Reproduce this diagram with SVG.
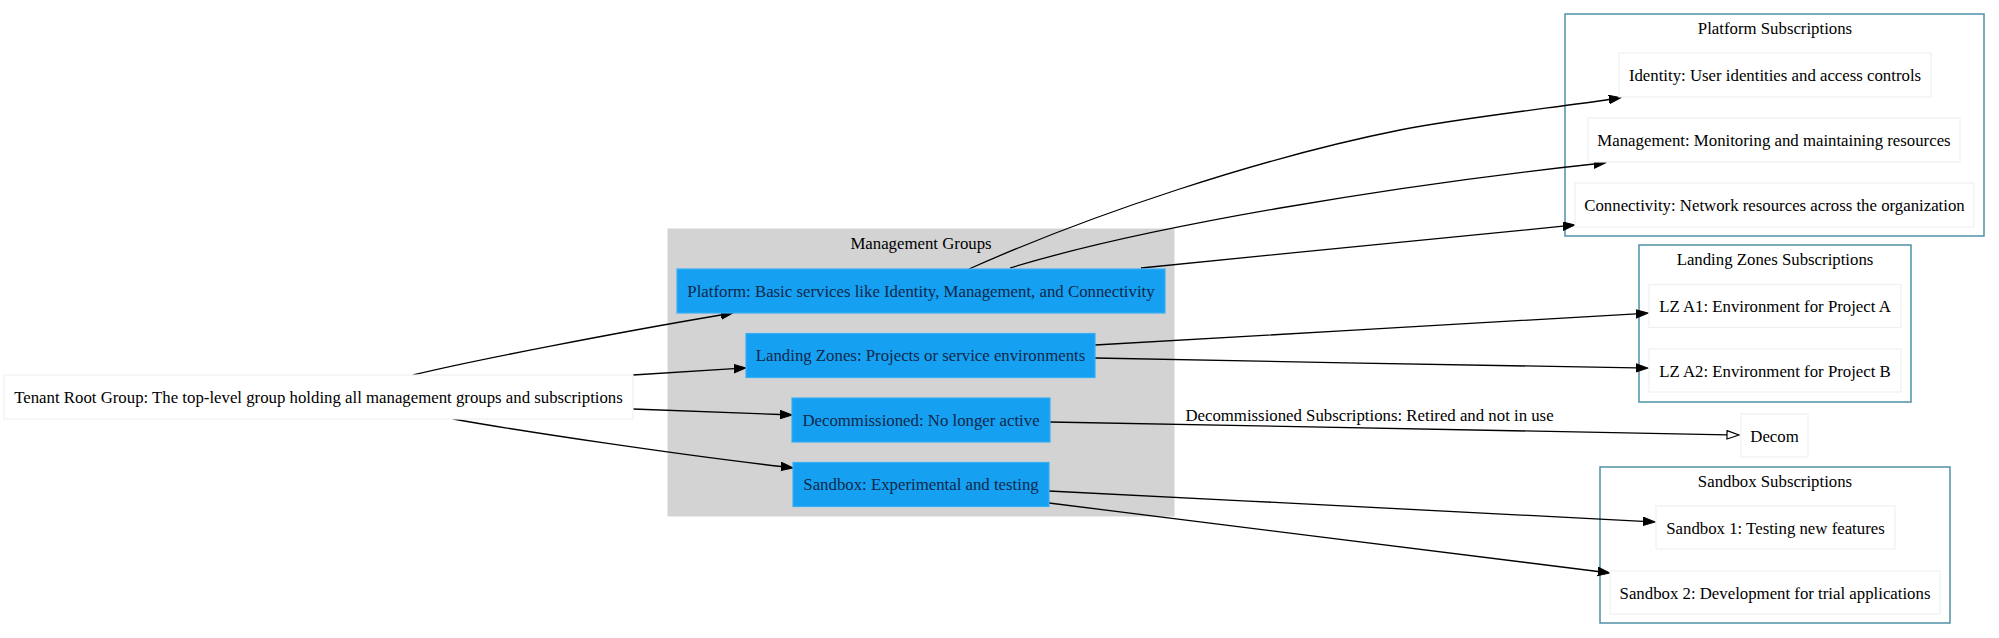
<svg xmlns="http://www.w3.org/2000/svg" width="1999" height="638" viewBox="0 0 1999 638">
<style>
text{font-family:"Liberation Serif","Times New Roman",serif;font-size:16.8px;fill:#000;text-anchor:middle}
.sub{fill:#fff;stroke:#4f91a8;stroke-width:1.5}
.mg{fill:#d3d3d3;stroke:#d3d3d3}
.wn{fill:#fff;stroke:#eef1f1;stroke-width:1.2}
.bn{fill:#15a0f2;stroke:#3aaef5;stroke-width:1.2}
.bt{fill:#10284a}
.e{fill:none;stroke:#000;stroke-width:1.3}
</style>
<defs>
<marker id="ah" markerUnits="userSpaceOnUse" markerWidth="13" markerHeight="10" refX="0" refY="4.5" orient="auto">
<path d="M0,0.3 L12,4.5 L0,8.7 z" fill="#000" stroke="#000" stroke-width="1"/>
</marker>
<marker id="ao" markerUnits="userSpaceOnUse" markerWidth="14" markerHeight="11" refX="0.8" refY="5" orient="auto">
<path d="M0.8,0.8 L12.8,5 L0.8,9.2 z" fill="#fff" stroke="#000" stroke-width="1.2"/>
</marker>
</defs>
<rect width="1999" height="638" fill="#fff"/>

<g id="cluster-mg">
<rect class="mg" x="668" y="229" width="506" height="287"/>
<text x="921" y="249">Management Groups</text>
</g>
<g id="cluster-platform-subs">
<rect class="sub" x="1565" y="14" width="419" height="222"/>
<text x="1775" y="34">Platform Subscriptions</text>
</g>
<g id="cluster-lz-subs">
<rect class="sub" x="1639" y="245" width="272" height="157"/>
<text x="1775" y="265">Landing Zones Subscriptions</text>
</g>
<g id="cluster-sandbox-subs">
<rect class="sub" x="1600" y="467" width="350" height="156"/>
<text x="1775" y="487">Sandbox Subscriptions</text>
</g>

<g id="edges">
<path class="e" d="M413,375 C470,361 620,332 721,315" marker-end="url(#ah)"/>
<path class="e" d="M633,375 L734,368.7" marker-end="url(#ah)"/>
<path class="e" d="M633,409 L780,414.5" marker-end="url(#ah)"/>
<path class="e" d="M453,419 C520,431 680,455 781,466.5" marker-end="url(#ah)"/>
<path class="e" d="M969,269 C1090,215 1260,158 1400,130 C1460,118 1560,107 1609,99.5" marker-end="url(#ah)"/>
<path class="e" d="M1010,268 C1150,225 1400,185 1594,164" marker-end="url(#ah)"/>
<path class="e" d="M1141,268 C1280,254 1440,238 1563,226.2" marker-end="url(#ah)"/>
<path class="e" d="M1095,345 C1250,336 1500,322 1636,313.8" marker-end="url(#ah)"/>
<path class="e" d="M1095,358 C1250,361 1500,366 1636,367.9" marker-end="url(#ah)"/>
<path class="e" d="M1050,422 C1300,427 1550,432 1727,434.8" marker-end="url(#ao)"/>
<text x="1369.5" y="421">Decommissioned Subscriptions: Retired and not in use</text>
<path class="e" d="M1049,491 C1250,501 1500,514 1643,521.3" marker-end="url(#ah)"/>
<path class="e" d="M1049,503 C1200,522 1450,553 1598,571.5" marker-end="url(#ah)"/>
</g>

<g id="tenant">
<rect class="wn" x="4" y="375" width="629" height="44"/>
<text x="318.5" y="403">Tenant Root Group: The top-level group holding all management groups and subscriptions</text>
</g>
<g id="platform">
<rect class="bn" x="677" y="269" width="488" height="44"/>
<text class="bt" x="921" y="297">Platform: Basic services like Identity, Management, and Connectivity</text>
</g>
<g id="landingzones">
<rect class="bn" x="746" y="333.5" width="349" height="44"/>
<text class="bt" x="920.5" y="361">Landing Zones: Projects or service environments</text>
</g>
<g id="decommissioned">
<rect class="bn" x="792" y="398" width="258" height="44"/>
<text class="bt" x="921" y="426">Decommissioned: No longer active</text>
</g>
<g id="sandbox">
<rect class="bn" x="793" y="462.5" width="256" height="44"/>
<text class="bt" x="921" y="490">Sandbox: Experimental and testing</text>
</g>
<g id="identity">
<rect class="wn" x="1619" y="53" width="312" height="44"/>
<text x="1775" y="81">Identity: User identities and access controls</text>
</g>
<g id="management">
<rect class="wn" x="1588" y="118" width="372" height="44"/>
<text x="1774" y="146">Management: Monitoring and maintaining resources</text>
</g>
<g id="connectivity">
<rect class="wn" x="1575" y="183" width="399" height="44"/>
<text x="1774.5" y="211">Connectivity: Network resources across the organization</text>
</g>
<g id="lza1">
<rect class="wn" x="1649" y="284.5" width="252" height="43"/>
<text x="1775" y="312">LZ A1: Environment for Project A</text>
</g>
<g id="lza2">
<rect class="wn" x="1649" y="349" width="252" height="43"/>
<text x="1775" y="376.5">LZ A2: Environment for Project B</text>
</g>
<g id="decom">
<rect class="wn" x="1741" y="414" width="67" height="43"/>
<text x="1774.5" y="441.5">Decom</text>
</g>
<g id="sandbox1">
<rect class="wn" x="1656" y="506" width="239" height="43"/>
<text x="1775.5" y="533.5">Sandbox 1: Testing new features</text>
</g>
<g id="sandbox2">
<rect class="wn" x="1610" y="571" width="330" height="43"/>
<text x="1775" y="598.5">Sandbox 2: Development for trial applications</text>
</g>
</svg>
